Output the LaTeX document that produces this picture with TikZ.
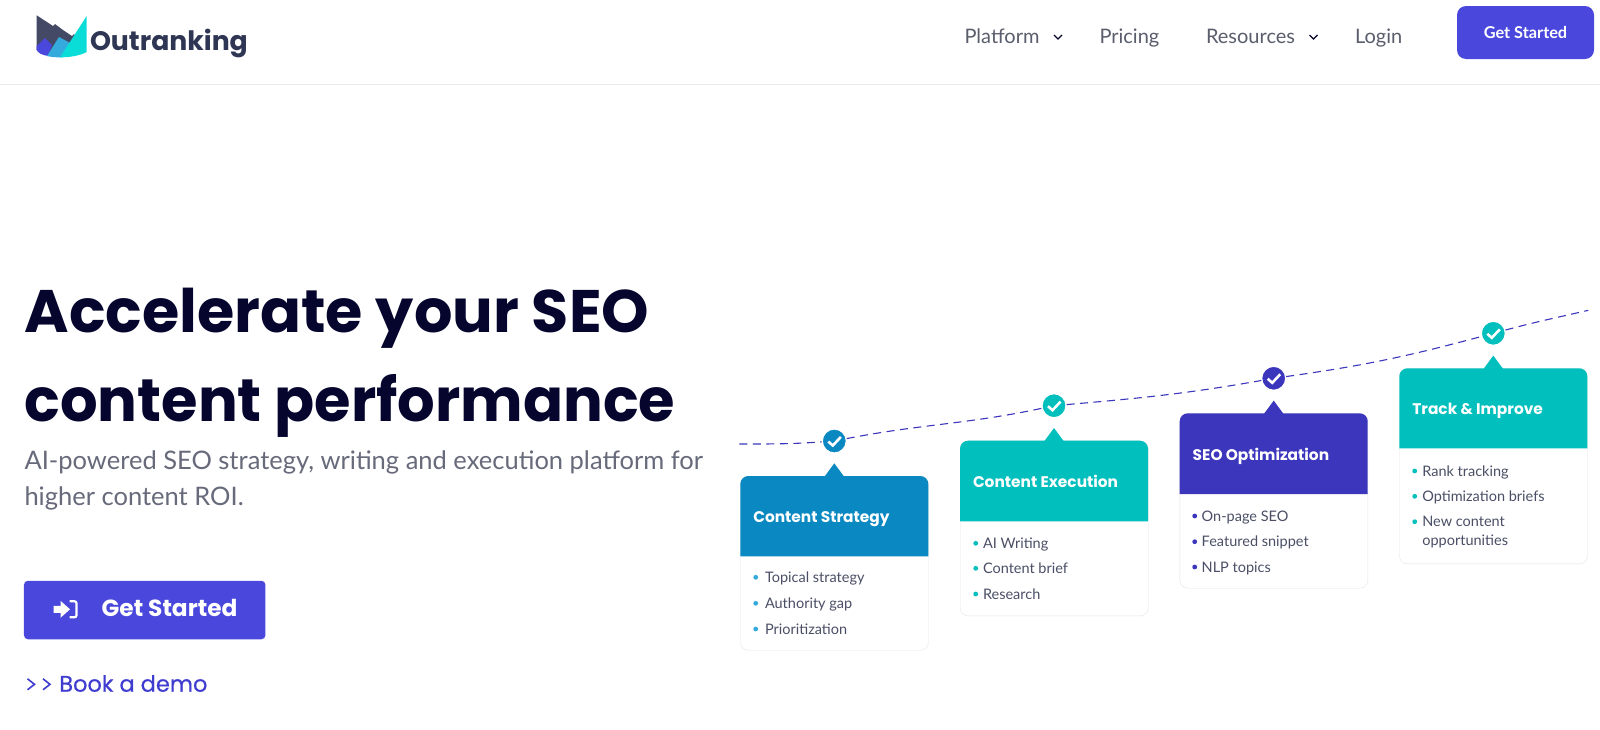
\documentclass[tikz,border=0pt]{standalone}
\usepackage{fontspec}
\setmainfont{Lato}
\newfontfamily\headfont{Poppins}
\newfontfamily\demofont[FakeBold=0.5]{Poppins}
\definecolor{navycol}{HTML}{05052E}
\definecolor{logocol}{HTML}{2F3654}
\definecolor{navcol}{HTML}{5A5D6C}
\definecolor{subcol}{HTML}{676A7A}
\definecolor{itemcol}{HTML}{4A4F66}
\definecolor{btncol}{HTML}{4A48DC}
\definecolor{linkcol}{HTML}{3F3CD0}
\definecolor{bluecol}{HTML}{0A88C2}
\definecolor{tealcol}{HTML}{00BFBD}
\definecolor{indigocol}{HTML}{3B36BC}
\definecolor{dotcol}{HTML}{35ABDD}
\definecolor{brightcol}{HTML}{0ADCD8}
\tikzset{
  plain/.style={anchor=base west,inner sep=0pt,outer sep=0pt},
  headline/.style={plain,text=navycol,transform shape,font=\headfont\bfseries\fontsize{60}{60}\selectfont},
  subline/.style={plain,text=subcol,font=\fontsize{25.5}{25}\selectfont},
  navlink/.style={plain,text=navcol,font=\fontsize{20}{20}\selectfont},
  cardtitle/.style={plain,text=white,font=\headfont\bfseries\fontsize{15.4}{16}\selectfont},
  carditem/.style={plain,text=itemcol,font=\fontsize{14.5}{15}\selectfont},
  cardbody/.style={anchor=north west,draw=black!10,fill=white,rounded corners=8pt,inner sep=0pt},
  checkdot/.style={circle,draw=white,line width=1.2pt,minimum size=24pt,inner sep=0pt},
  curve/.style={indigocol,line width=1.1pt,dash pattern=on 8pt off 5.5pt},
}
\begin{document}
\begin{tikzpicture}[x=1pt,y=-1pt]
    \path[fill=white,use as bounding box] (0,0) rectangle (1600,729);
    \draw[black!8,line width=1pt] (0,84.5) -- (1600,84.5);
    % logo
    \fill[logocol!90!white] (36.7,15.3) -- (53,26) -- (55,24) -- (63,30) -- (72,36) -- (74,34) -- (80,40) -- (60,57) -- (36.7,50) -- cycle;
    \fill[btncol] (36.7,46) -- (45,38) -- (52,45) -- (48,56) .. controls (42,55) and (38,53) .. (36.7,50) -- cycle;
    \fill[dotcol] (47,56) -- (59,37) -- (72,44) -- (62,57.3) .. controls (56,57.5) and (51,57) .. (47,56) -- cycle;
    \fill[brightcol] (86.7,16) -- (86.7,52) .. controls (80,55.5) and (70,57.5) .. (60,57.3) -- cycle;
    \node[plain,text=logocol,font=\headfont\bfseries\fontsize{26.7}{27}\selectfont] (logotext) at (90,50.5) {Outranking};
    % top bar
    \node[navlink] (platform) at (964.5,43.5) {Platform};
    \node[navlink] (pricing) at (1099.5,43.5) {Pricing};
    \node[navlink] (resources) at (1206,43.5) {Resources};
    \node[navlink] (login) at (1355,43.5) {Login};
    \foreach \x in {1058,1313.5}
    \draw[navycol,line width=1.1pt,shift={(\x,37)}] (-4,-2) -- (0,2) -- (4,-2);
    \node[rounded corners=9pt,fill=btncol,minimum width=137pt,minimum height=53pt,inner sep=0pt,text=white,font=\bfseries\fontsize{16.3}{16}\selectfont] (topbtn) at (1525.5,32.5) {Get Started};
    % left column
    \node[headline,xscale=1.007] (headone) at (24.5,332.5) {Accelerate your SEO};
    \node[headline,xscale=0.985] (headtwo) at (24.5,421.5) {content performance};
    \node[subline] (subone) at (24.5,469) {AI-powered SEO strategy, writing and execution platform for};
    \node[subline] (subtwo) at (24.5,505) {higher content ROI.};
    \node[rounded corners=4pt,fill=btncol,minimum width=241.5pt,minimum height=58.5pt,inner sep=0pt] (bigbtn) at (144.7,610) {};
    \node[plain,text=white,font=\headfont\bfseries\fontsize{23.3}{23}\selectfont] (bigbtntext) at (101.7,616.7) {Get Started};
    \fill[white,shift={(53.5,609.3)}] (0,-3.5) -- (7,-3.5) -- (7,-8.5) -- (16.5,0) -- (7,8.5) -- (7,3.5) -- (0,3.5) -- cycle;
    \draw[white,line width=2.2pt,rounded corners=2pt,shift={(53.5,609.3)}] (16,-8) -- (23,-8) -- (23,8) -- (16,8);
    \foreach \x in {27.5,43}
    \draw[linkcol,line width=1.6pt,shift={(\x,684.3)}] (0,-5.5) -- (7,0) -- (0,5.5);
    \node[plain,text=linkcol,font=\demofont\fontsize{22.5}{22}\selectfont] (demo) at (59.3,691.7) {Book a demo};
    % cards
    \foreach \lft/\tp/\hd/\bt/\col/\cname/\ctitle in {
      740.3/476/556.3/650/bluecol/strategy/Content Strategy,
      960/440.7/521.3/615.7/tealcol/execution/Content Execution,
      1179.7/413.3/494/588/indigocol/optimization/SEO Optimization,
      1399.3/368.3/448.3/563.7/tealcol/track/Track \& Improve}
    {
      \pgfmathsetmacro{\rgt}{\lft+188}
      \pgfmathsetmacro{\mid}{\lft+94}
      \pgfmathsetmacro{\hgt}{\bt-\tp}
      \pgfmathsetmacro{\cky}{\tp-35}
      \node[cardbody,minimum width=188pt,minimum height=\hgt pt] (\cname) at (\lft,\tp) {};
      \fill[\col] (\lft,\hd) [rounded corners=8pt] -- (\lft,\tp) -- (\rgt,\tp) [sharp corners] -- (\rgt,\hd) -- cycle;
      \fill[\col,shift={(\mid,\tp)}] (-9.7,0.5) -- (0,-12.7) -- (9.7,0.5) -- cycle;
      \node[cardtitle] (\cname-title) at ({\lft+13},{(\tp+\hd)/2+6.5}) {\ctitle};
      \node[checkdot,fill=\col] (\cname-check) at (\mid,\cky) {};
      \draw[white,line width=2.6pt,shift={(\mid,\cky)}] (-6,0.5) -- (-1.5,4.5) -- (6.5,-4);
    }
    % dashed line
    \coordinate (linestart) at (739.3,444);
    \coordinate (lineend) at (1588.3,310.3);
    \draw[curve] (linestart) to[out=0,in=184] (strategy-check);
    \draw[curve] (strategy-check) to[out=11,in=192] (execution-check);
    \draw[curve] (execution-check) to[out=5,in=190] (optimization-check);
    \draw[curve] (optimization-check) to[out=8,in=195] (track-check);
    \draw[curve] (track-check) to[out=15,in=193] (lineend);
    % lists
    \foreach \x/\y/\tx/\col/\txt in {
      755.7/577.3/765/dotcol/Topical strategy,
      755.7/603.3/765/dotcol/Authority gap,
      755.7/629/765/dotcol/Prioritization,
      975.7/543.3/983/tealcol/AI Writing,
      975.7/568.3/983/tealcol/Content brief,
      975.7/594/983/tealcol/Research,
      1194.7/516/1201.7/indigocol/On-page SEO,
      1194.7/541.7/1201.7/indigocol/Featured snippet,
      1194.7/567/1201.7/indigocol/NLP topics,
      1414.7/471/1422.3/tealcol/Rank tracking,
      1414.7/496.3/1422.3/tealcol/Optimization briefs,
      1414.7/521.7/1422.3/tealcol/New content}
    {
      \fill[\col] (\x,\y) circle (2.4pt);
      \node[carditem] (item\x-\y) at (\tx,{\y+5}) {\txt};
    }
    \node[carditem] (lastline) at (1422.3,545.3) {opportunities};
\end{tikzpicture}
\end{document}
